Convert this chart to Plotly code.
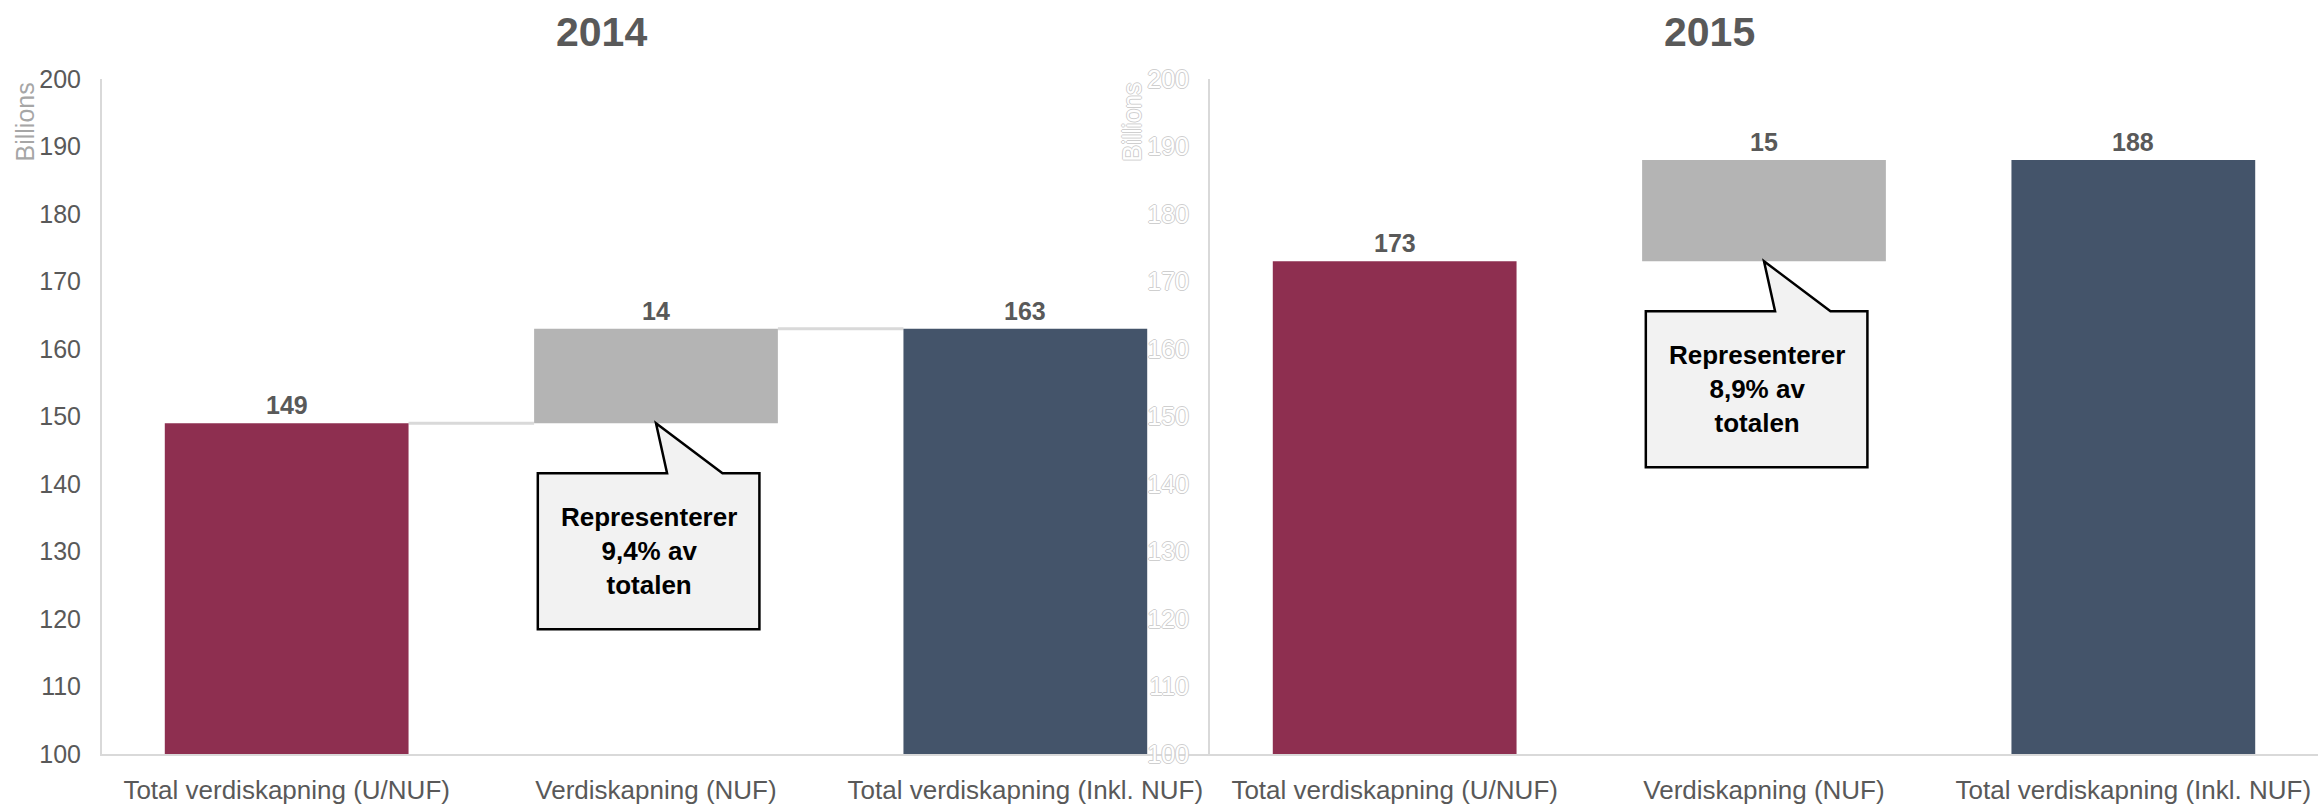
import plotly.graph_objects as go

# --- data -------------------------------------------------------------------
categories = [
    "Total verdiskapning (U/NUF)",
    "Verdiskapning (NUF)",
    "Total verdiskapning (Inkl. NUF)",
]
years = ["2014", "2015"]
values_2014 = [149, 14, 163]
values_2015 = [173, 15, 188]
share_of_total = ["9,4%", "8,9%"]
y_tick_values = [100, 110, 120, 130, 140, 150, 160, 170, 180, 190, 200]

# --- style ------------------------------------------------------------------
W, H = 2318, 806
FONT = "Liberation Sans, Arial, sans-serif"
TEXT_GREY = "#595959"
AXIS_GREY = "#d9d9d9"
BAR_COLORS = ["#8E2F50", "#B4B4B4", "#44546A"]
BAR_WIDTH = 0.66
M_L, M_R, M_T, M_B = 0, 0, 79, 52
SPLIT_PX = 1210
LEFT_PX = 102

fig = go.Figure()

idx = list(range(len(categories)))


def waterfall_parts(vals):
    """Bars: start total, floating increment, end total."""
    bases = [0, vals[0], 0]
    return bases, vals


panels = [
    (values_2014, "x", "y", "x", "y"),
    (values_2015, "x2", "y2", "x2", "y2"),
]

for vals, xa, ya, xref, yref in panels:
    bases, heights = waterfall_parts(vals)
    fig.add_trace(go.Bar(
        x=idx, y=heights, base=bases, width=BAR_WIDTH,
        marker=dict(color=BAR_COLORS, line=dict(width=0)),
        xaxis=xa, yaxis=ya, hoverinfo="skip", showlegend=False,
    ))
    # value labels above each bar
    for i, (b, h) in enumerate(zip(bases, heights)):
        fig.add_annotation(
            x=i, y=b + h, xref=xref, yref=yref, text=str(h),
            showarrow=False, yanchor="bottom", yshift=2,
            font=dict(family=FONT, size=25, color=TEXT_GREY, weight="bold"),
        )

# connector lines between the 2014 bars
b14, h14 = waterfall_parts(values_2014)
half = BAR_WIDTH / 2
for i in range(2):
    level = b14[i] + h14[i]
    fig.add_shape(type="line", xref="x", yref="y",
                  x0=i + half, x1=i + 1 - half, y0=level, y1=level,
                  line=dict(color=AXIS_GREY, width=3), layer="below")

# speech-bubble callouts pointing at the NUF bar
for (vals, xref, yref), share in zip(
        [(values_2014, "x", "y"), (values_2015, "x2", "y2")], share_of_total):
    tx, ty = 1.0, vals[0]
    top, bot = ty - 7.4, ty - 30.5
    left, right = tx - 0.32, tx + 0.28
    path = (f"M {tx},{ty} L {tx + 0.18},{top} L {right},{top} L {right},{bot} "
            f"L {left},{bot} L {left},{top} L {tx + 0.03},{top} Z")
    fig.add_shape(type="path", path=path, xref=xref, yref=yref,
                  fillcolor="#f2f2f2", line=dict(color="black", width=2.5),
                  layer="above")
    fig.add_annotation(
        x=(left + right) / 2, y=(top + bot) / 2, xref=xref, yref=yref,
        text=f"Representerer<br>{share} av<br>totalen", showarrow=False,
        font=dict(family=FONT, size=26, color="black", weight="bold"),
        align="center",
    )

# --- axes -------------------------------------------------------------------
plot_h = H - M_T - M_B
d_split = SPLIT_PX / W
d_left = LEFT_PX / W

xaxis_common = dict(
    range=[-0.5, 2.5], tickvals=idx, ticktext=categories,
    showline=True, linecolor=AXIS_GREY, linewidth=2,
    showgrid=False, zeroline=False, ticks="", ticklabelstandoff=12,
    tickfont=dict(family=FONT, size=26, color=TEXT_GREY), fixedrange=True,
)
yaxis_common = dict(
    range=[100, 200], tickvals=y_tick_values,
    showline=True, linecolor=AXIS_GREY, linewidth=2,
    showgrid=False, zeroline=False, ticks="", ticklabelstandoff=14,
    fixedrange=True,
)

ghost_font = dict(
    family=FONT, size=25, color="white",
    shadow="1px 0 0 #cfcfcf, -1px 0 0 #cfcfcf, 0 1px 0 #cfcfcf, 0 -1px 0 #cfcfcf",
)

fig.update_layout(
    width=W, height=H, autosize=False,
    margin=dict(l=M_L, r=M_R, t=M_T, b=M_B, pad=0),
    paper_bgcolor="white", plot_bgcolor="white",
    bargap=0.34,
    xaxis=dict(domain=[d_left, d_split], anchor="y", **xaxis_common),
    yaxis=dict(anchor="x",
               tickfont=dict(family=FONT, size=25, color=TEXT_GREY),
               **yaxis_common),
    xaxis2=dict(domain=[d_split, 1.0], anchor="y2", **xaxis_common),
    yaxis2=dict(anchor="x2", tickfont=ghost_font, **yaxis_common),
)


def py(px_y):
    return (H - M_B - px_y) / plot_h


# panel titles
for year, cx in zip(years, [601, 1709]):
    fig.add_annotation(
        x=cx / W, y=py(32), xref="paper", yref="paper", text=year,
        showarrow=False, xanchor="center", yanchor="middle",
        font=dict(family=FONT, size=41, color=TEXT_GREY, weight="bold"),
    )

# unit labels beside the value axes
fig.add_annotation(
    x=25 / W, y=py(81), xref="paper", yref="paper", text="Billions",
    textangle=-90, showarrow=False, xanchor="center", yanchor="top",
    font=dict(family=FONT, size=25, color="#a6a6a6"),
)
fig.add_annotation(
    x=1132 / W, y=py(81), xref="paper", yref="paper", text="Billions",
    textangle=-90, showarrow=False, xanchor="center", yanchor="top",
    font=ghost_font,
)

fig.write_html("out.html", config={"displayModeBar": False})
